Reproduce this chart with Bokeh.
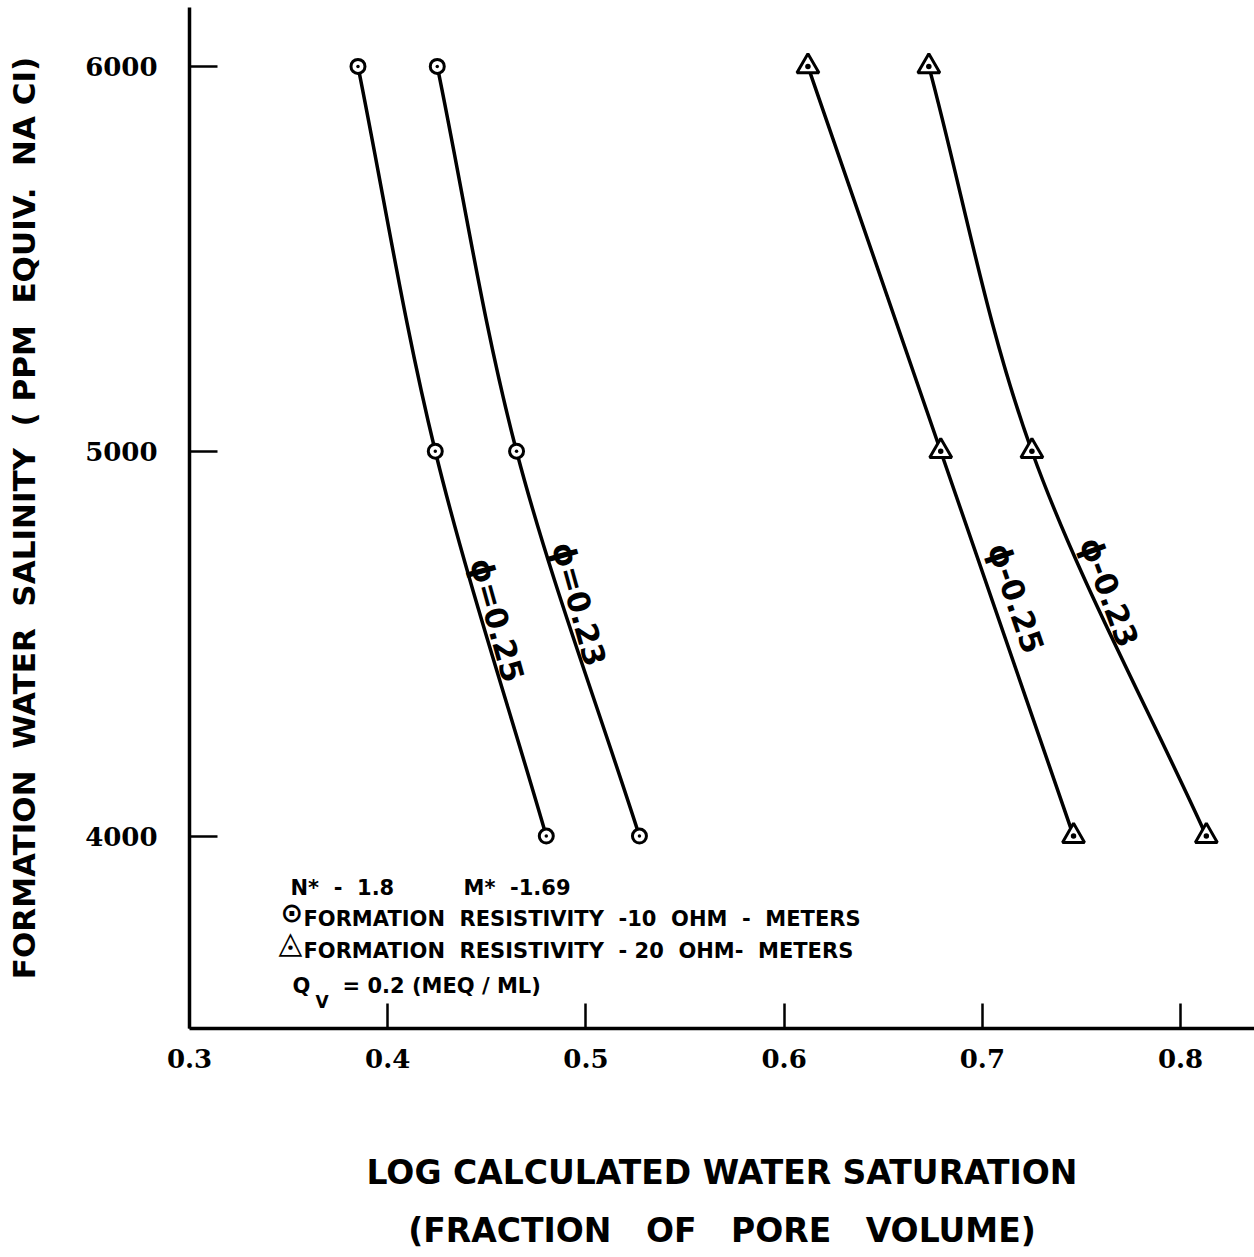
import numpy as np
from bokeh.plotting import figure
from bokeh.models import Label, FixedTicker, Range1d
from bokeh.embed import file_html
from bokeh.resources import INLINE

# ---------------- data ----------------
salinity = [6000, 5000, 4000]                 # ppm equiv. NaCl
sw_r10_phi25 = [0.385, 0.424, 0.480]          # Rt = 10 ohm-m, phi = 0.25
sw_r10_phi23 = [0.425, 0.465, 0.527]          # Rt = 10 ohm-m, phi = 0.23
sw_r20_phi25 = [0.612, 0.679, 0.746]          # Rt = 20 ohm-m, phi = 0.25
sw_r20_phi23 = [0.673, 0.725, 0.813]          # Rt = 20 ohm-m, phi = 0.23
x_ticks = [0.3, 0.4, 0.5, 0.6, 0.7, 0.8]
y_ticks = [4000, 5000, 6000]
curve_labels = ["ϕ=0.25", "ϕ=0.23", "ϕ-0.25", "ϕ-0.23"]

NB = "\u00a0"  # non-collapsing space for the wide word gaps of the original lettering
x_title = ("LOG CALCULATED WATER SATURATION\n"
           f"(FRACTION{NB}{NB} OF{NB}{NB} PORE{NB}{NB} VOLUME)")
y_title = (f"FORMATION{NB} WATER{NB} SALINITY{NB} ({NB}PPM{NB} EQUIV.{NB} NA CI)")

# ---------------- figure ----------------
FRAME_LEFT, FRAME_BOTTOM = 189, 1028
p = figure(width=1254, height=1257,
           x_range=Range1d(0.3, 0.8373), y_range=Range1d(3500, 6153),
           output_backend="svg", toolbar_location=None,
           min_border_left=FRAME_LEFT, min_border_right=0,
           min_border_top=7, min_border_bottom=1257 - FRAME_BOTTOM)
p.outline_line_color = None
p.grid.visible = False
p.background_fill_color = "white"
p.border_fill_color = "white"

BOLD = "DejaVu Sans"
SERIF = "DejaVu Serif"

for ax, ticks, tick_in in ((p.xaxis[0], x_ticks, 25), (p.yaxis[0], y_ticks, 28)):
    ax.ticker = FixedTicker(ticks=ticks)
    ax.axis_line_width = 3.5
    ax.axis_line_color = "black"
    ax.major_tick_in = tick_in
    ax.major_tick_out = 0
    ax.major_tick_line_width = 2.5
    ax.minor_tick_line_color = None
    ax.major_label_text_font = SERIF
    ax.major_label_text_font_style = "bold"
    ax.major_label_text_font_size = "26px"
    ax.major_label_text_color = "black"
    ax.axis_label_text_font = BOLD
    ax.axis_label_text_font_style = "bold"
    ax.axis_label_text_color = "black"

p.xaxis.major_label_standoff = 20
p.yaxis.major_label_standoff = 32
p.xaxis.axis_label = x_title
p.xaxis.axis_label_text_font_size = "33px"
p.xaxis.axis_label_text_line_height = 1.5
p.xaxis.axis_label_standoff = 82
p.yaxis.axis_label = y_title
p.yaxis.axis_label_text_font_size = "31px"
p.yaxis.axis_label_standoff = 40


def bezier_segments(xs, ys):
    """Smooth curve through the data points (cubic Bezier pieces)."""
    P = np.column_stack([xs, ys]).astype(float)
    T = np.zeros_like(P)
    T[0] = P[1] - P[0]
    T[-1] = P[-1] - P[-2]
    T[1:-1] = (P[2:] - P[:-2]) / 2
    c0 = P[:-1] + T[:-1] / 3
    c1 = P[1:] - T[1:] / 3
    return dict(x0=P[:-1, 0], y0=P[:-1, 1], x1=P[1:, 0], y1=P[1:, 1],
                cx0=c0[:, 0], cy0=c0[:, 1], cx1=c1[:, 0], cy1=c1[:, 1])


series = [
    (sw_r10_phi25, "circle_dot", 14),
    (sw_r10_phi23, "circle_dot", 14),
    (sw_r20_phi25, "triangle_dot", 22),
    (sw_r20_phi23, "triangle_dot", 22),
]
for xs, marker, size in series:
    seg = bezier_segments(xs, salinity)
    p.bezier(source=seg, x0="x0", y0="y0", x1="x1", y1="y1",
             cx0="cx0", cy0="cy0", cx1="cx1", cy1="cy1",
             line_color="black", line_width=3.5, line_cap="round")
for xs, marker, size in series:
    p.scatter(xs, salinity, marker=marker, size=size, fill_color="white",
              line_color="black", line_width=3)

# curve labels (along each curve)
curve_label_pos = [(0.4552, 4561, -1.300), (0.4966, 4603, -1.300),
                   (0.7170, 4618, -1.243), (0.7640, 4634, -1.216)]
for txt, (lx, ly, ang) in zip(curve_labels, curve_label_pos):
    p.add_layout(Label(x=lx, y=ly, text=txt, angle=ang,
                       text_align="center", text_baseline="middle",
                       text_font=BOLD, text_font_style="bold",
                       text_font_size="31px", text_color="black"))


# key block (screen units, measured from the frame's bottom-left corner)
def key(px, py, txt, size="21px"):
    p.add_layout(Label(x=px - FRAME_LEFT, y=FRAME_BOTTOM - py, x_units="screen",
                       y_units="screen", text=txt, text_align="left",
                       text_baseline="alphabetic", text_font=BOLD,
                       text_font_style="bold", text_font_size=size,
                       text_color="black"))


key(290, 887, f"N*{NB} -{NB} 1.8")
key(463, 887, f"M*{NB} -1.69")
key(280, 912, "⊙", "27px")
key(303, 918, f"FORMATION{NB} RESISTIVITY{NB} -10{NB} OHM{NB} -{NB} METERS")
key(278, 941, "◬", "31px")
key(303, 950, f"FORMATION{NB} RESISTIVITY{NB} - 20{NB} OHM-{NB} METERS")
key(292, 985, "Q")
key(315, 1001, "V", "17px")
key(342, 985, "= 0.2 (MEQ / ML)")

open("out.html", "w").write(file_html(p, INLINE))
